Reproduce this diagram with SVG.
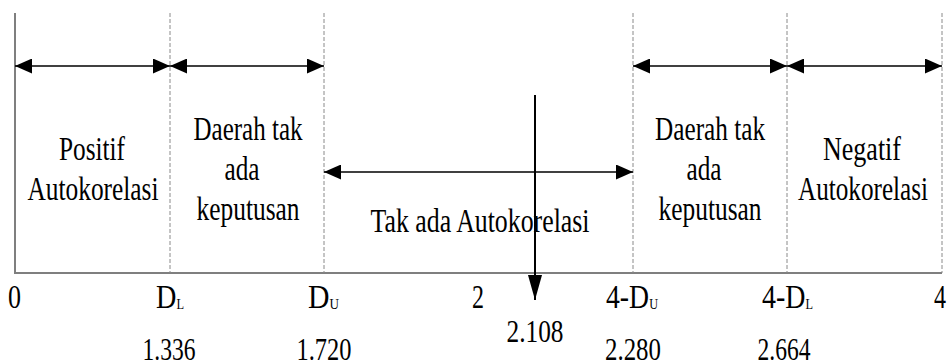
<svg xmlns="http://www.w3.org/2000/svg" width="947" height="362" viewBox="0 0 947 362">
<style>
  text { font-family: "Liberation Serif", "Times New Roman", serif; fill: #000; }
  .lbl { font-size: 34px; text-anchor: middle; }
  .num { font-size: 31px; text-anchor: middle; }
  .tick { font-size: 34px; }
  .sub { font-size: 15px; }
  .axis { stroke: #7f7f7f; stroke-width: 2; fill: none; }
  .dash { stroke: #8a8a8a; stroke-width: 1; stroke-dasharray: 4 2; fill: none; }
  .arr { stroke: #000; stroke-width: 1.6; fill: none; marker-start: url(#head); marker-end: url(#head); }
  .varr { stroke: #000; stroke-width: 2; fill: none; marker-end: url(#vhead); }
</style>
<defs>
  <marker id="head" markerUnits="userSpaceOnUse" markerWidth="17" markerHeight="15" refX="17" refY="7.5" orient="auto-start-reverse" viewBox="0 0 17 15">
    <path d="M0,0 L17,7.5 L0,15 z" fill="#000"/>
  </marker>
  <marker id="vhead" markerUnits="userSpaceOnUse" markerWidth="25" markerHeight="14" refX="25" refY="7" orient="auto" viewBox="0 0 25 14">
    <path d="M0,0 L25,7 L0,14 z" fill="#000"/>
  </marker>
</defs>

<g id="axis">
  <line class="axis" x1="15" y1="13" x2="15" y2="273"/>
  <line class="axis" x1="14" y1="273" x2="942" y2="273"/>
  <line class="dash" x1="170" y1="13" x2="170" y2="273"/>
  <line class="dash" x1="324" y1="13" x2="324" y2="273"/>
  <line class="dash" x1="633" y1="13" x2="633" y2="273"/>
  <line class="dash" x1="787" y1="13" x2="787" y2="273"/>
  <line class="dash" x1="942" y1="13" x2="942" y2="273"/>
</g>

<g id="connectors">
  <line class="arr" x1="15" y1="66" x2="170" y2="66"/>
  <line class="arr" x1="170" y1="66" x2="324" y2="66"/>
  <line class="arr" x1="633" y1="66" x2="787" y2="66"/>
  <line class="arr" x1="787" y1="66" x2="942" y2="66"/>
  <line class="arr" x1="324" y1="172" x2="633" y2="172"/>
  <line class="varr" x1="535" y1="95" x2="535" y2="300"/>
</g>

<g id="positif">
  <text class="lbl" x="92" y="160" textLength="66" lengthAdjust="spacingAndGlyphs">Positif</text>
  <text class="lbl" x="93" y="200" textLength="131" lengthAdjust="spacingAndGlyphs">Autokorelasi</text>
</g>
<g id="ragu-kiri">
  <text class="lbl" x="248" y="140" textLength="109" lengthAdjust="spacingAndGlyphs">Daerah tak</text>
  <text class="lbl" x="242" y="180" textLength="35" lengthAdjust="spacingAndGlyphs">ada</text>
  <text class="lbl" x="248" y="220" textLength="103" lengthAdjust="spacingAndGlyphs">keputusan</text>
</g>
<g id="tak-ada">
  <text class="lbl" x="480" y="232" textLength="219" lengthAdjust="spacingAndGlyphs">Tak ada Autokorelasi</text>
</g>
<g id="ragu-kanan">
  <text class="lbl" x="710" y="140" textLength="110" lengthAdjust="spacingAndGlyphs">Daerah tak</text>
  <text class="lbl" x="704" y="180" textLength="35" lengthAdjust="spacingAndGlyphs">ada</text>
  <text class="lbl" x="710" y="220" textLength="103" lengthAdjust="spacingAndGlyphs">keputusan</text>
</g>
<g id="negatif">
  <text class="lbl" x="862" y="160" textLength="78" lengthAdjust="spacingAndGlyphs">Negatif</text>
  <text class="lbl" x="863" y="200" textLength="130" lengthAdjust="spacingAndGlyphs">Autokorelasi</text>
</g>

<g id="ticks">
  <text class="tick" x="8" y="308" textLength="13" lengthAdjust="spacingAndGlyphs">0</text>
  <text class="tick" x="156" y="308" textLength="28" lengthAdjust="spacingAndGlyphs">D<tspan class="sub" dy="1">L</tspan></text>
  <text class="tick" x="308" y="308" textLength="31" lengthAdjust="spacingAndGlyphs">D<tspan class="sub" dy="1">U</tspan></text>
  <text class="tick" x="472" y="308" textLength="12" lengthAdjust="spacingAndGlyphs">2</text>
  <text class="tick" x="606" y="308" textLength="52" lengthAdjust="spacingAndGlyphs">4-D<tspan class="sub" dy="1">U</tspan></text>
  <text class="tick" x="762" y="308" textLength="51" lengthAdjust="spacingAndGlyphs">4-D<tspan class="sub" dy="1">L</tspan></text>
  <text class="tick" x="934" y="308" textLength="12" lengthAdjust="spacingAndGlyphs">4</text>
</g>

<g id="values">
  <text class="num" x="169" y="360" textLength="53" lengthAdjust="spacingAndGlyphs">1.336</text>
  <text class="num" x="324" y="360" textLength="55" lengthAdjust="spacingAndGlyphs">1.720</text>
  <text class="num" x="535" y="342" textLength="57" lengthAdjust="spacingAndGlyphs">2.108</text>
  <text class="num" x="633" y="360" textLength="56" lengthAdjust="spacingAndGlyphs">2.280</text>
  <text class="num" x="784" y="360" textLength="53" lengthAdjust="spacingAndGlyphs">2.664</text>
</g>
</svg>
